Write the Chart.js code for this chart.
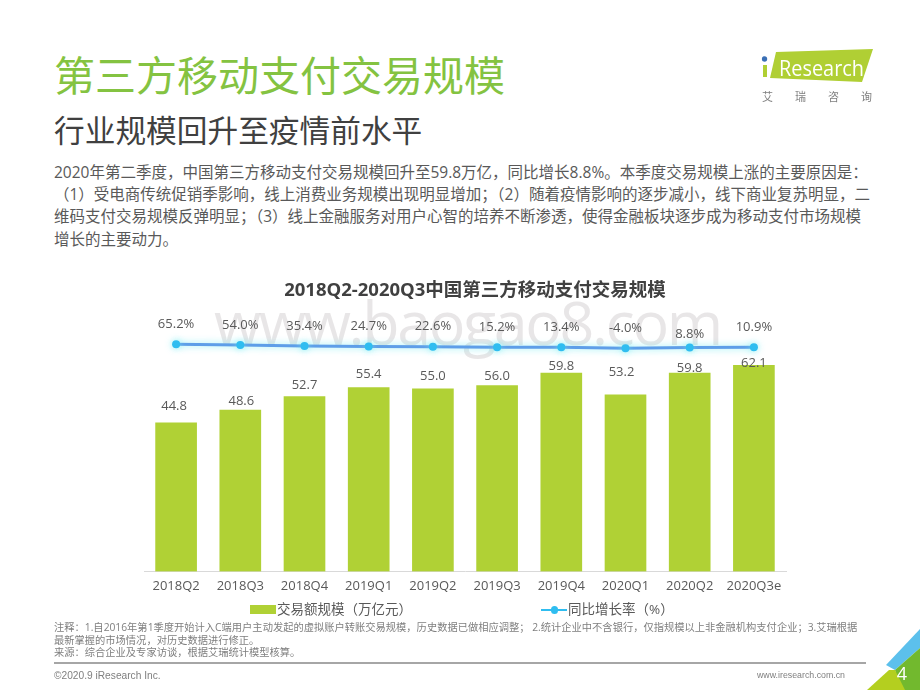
<!DOCTYPE html>
<html lang="zh"><head><meta charset="utf-8">
<script src="https://cdn.jsdelivr.net/npm/chart.js@4"></script>
<style>
html,body{margin:0;padding:0;background:#fff;}
#page{position:relative;width:920px;height:690px;overflow:hidden;font-family:"Open Sans","Noto Sans CJK SC",sans-serif;}
.t{position:absolute;white-space:nowrap;}
#c{position:absolute;left:0;top:0;}
#wm{left:214px;top:280px;font:61px "Open Sans",sans-serif;letter-spacing:-2.4px;color:rgba(190,185,188,.36);}
.sw{position:absolute;}
</style></head><body>
<div id="page">
<div class="t" style="left:54px;top:45px;font-size:41px;line-height:60px;color:#84c341;">第三方移动支付交易规模</div>
<div class="t" style="left:54px;top:107px;font-size:30.7px;line-height:46px;color:#404040;">行业规模回升至疫情前水平</div>
<div class="t" style="left:54px;top:161px;font-size:15.5px;line-height:22.2px;color:#595959;">2020年第二季度，中国第三方移动支付交易规模回升至59.8万亿，同比增长8.8%。本季度交易规模上涨的主要原因是：<br>（1）受电商传统促销季影响，线上消费业务规模出现明显增加；（2）随着疫情影响的逐步减小，线下商业复苏明显，二<br>维码支付交易规模反弹明显；（3）线上金融服务对用户心智的培养不断渗透，使得金融板块逐步成为移动支付市场规模<br>增长的主要动力。</div>
<div class="t" id="wm">www.baogao8.com</div>
<canvas id="c" width="920" height="690"></canvas>
<div id="legend"></div>
<div class="t" style="left:54px;top:621px;font-size:10.27px;line-height:12.5px;color:#7f7f7f;">注释：1.自2016年第1季度开始计入C端用户主动发起的虚拟账户转账交易规模，历史数据已做相应调整； 2.统计企业中不含银行，仅指规模以上非金融机构支付企业；3.艾瑞根据<br>最新掌握的市场情况，对历史数据进行修正。<br>来源：综合企业及专家访谈，根据艾瑞统计模型核算。</div>
<div style="position:absolute;left:54px;top:662px;width:812px;height:2px;background:#a6a6a6;"></div>
<div class="t" style="left:54px;top:669px;font:10.2px/13px 'Liberation Sans',sans-serif;color:#7f7f7f;">©2020.9 iResearch Inc.</div>
<div class="t" style="left:757px;top:669px;font:8.8px/13px 'Liberation Sans',sans-serif;color:#7f7f7f;">www.iresearch.com.cn</div>
<svg style="position:absolute;left:0;top:0" width="920" height="690">
<polygon points="776,52 873,49 862,82 770,78" fill="#b0cf34"/>
<circle cx="764.5" cy="59" r="2.7" fill="#3a6fb5"/>
<rect x="763" y="65" width="4" height="12" fill="#b0cf34"/>
<text x="779" y="75.7" font-family="Open Sans" font-size="22" fill="#fff" textLength="85" lengthAdjust="spacingAndGlyphs">Research</text>
<polygon points="886,665 921,628 921,647 895,670" fill="#5cc0ec"/>
<polygon points="895,670 921,647 921,690 900,690" fill="#72b92e"/>
<polygon points="867,690 889,670 895,670 905,690" fill="#b4cf1f"/>
<text x="902" y="680" font-family="Open Sans" font-size="18" fill="#fff" text-anchor="middle">4</text>
</svg>
<div class="t" style="left:762px;top:90px;font-size:11px;line-height:14px;letter-spacing:22px;color:#7f7f7f;">艾瑞咨询</div>
</div>
<script>
const categories = ["2018Q2","2018Q3","2018Q4","2019Q1","2019Q2","2019Q3","2019Q4","2020Q1","2020Q2","2020Q3e"];
const volumeValues = [44.8,48.6,52.7,55.4,55.0,56.0,59.8,53.2,59.8,62.1];
const growthValues = [65.2,54.0,35.4,24.7,22.6,15.2,13.4,-4.0,8.8,10.9];
const volumeLabel = "交易额规模（万亿元）";
const growthLabel = "同比增长率（%）";
const chartTitle = "2018Q2-2020Q3中国第三方移动支付交易规模";

// distance in px from mark to centre of its label
const barLabelGap = [16,9,11,13,13,9,7,23,5,2];
const lineLabelGap = [20,20,20,20,20,20,20,20,13,20];
const barLabelShift = [-2,1,0,0,0,0,0,-4,0,0];

const GREEN = "#b0d135", LINE = "#5e9ee8", DOT = "#2fbdf0", TXT = "#595959";
const FONT = '"Open Sans","Noto Sans CJK SC",sans-serif';

const labelsPlugin = {
  id:"markLabels",
  afterLayout(chart){ chart.titleBlock.left += 10; chart.titleBlock.right += 10; },
  beforeDatasetDraw(chart,args){
    if(args.index===0){const x=chart.ctx;x.save();x.shadowColor="rgba(110,235,240,.8)";x.shadowBlur=7;}
  },
  afterDatasetDraw(chart,args){
    if(args.index===0) chart.ctx.restore();
  },
  afterDatasetsDraw(chart){
    const x = chart.ctx; x.save();
    x.font = "13px "+FONT; x.fillStyle = TXT; x.textAlign="center"; x.textBaseline="middle";
    chart.getDatasetMeta(1).data.forEach((el,i)=>x.fillText(volumeValues[i].toFixed(1), el.x+barLabelShift[i], el.y-barLabelGap[i]));
    chart.getDatasetMeta(0).data.forEach((el,i)=>x.fillText(growthValues[i].toFixed(1)+"%", el.x, el.y-lineLabelGap[i]));
    x.restore();
  }
};

const chart = new Chart(document.getElementById("c"),{
  data:{labels:categories,datasets:[
    {type:"line",label:growthLabel,data:growthValues,yAxisID:"y1",order:1,borderColor:LINE,borderWidth:3,
     pointRadius:4,pointBackgroundColor:DOT,pointBorderWidth:0,tension:0},
    {type:"bar",label:volumeLabel,data:volumeValues,yAxisID:"y",order:2,backgroundColor:GREEN,barThickness:41}
  ]},
  options:{
    responsive:false,animation:false,devicePixelRatio:1,
    layout:{padding:{left:144,right:134,top:280,bottom:89}},
    scales:{
      x:{grid:{display:false,drawTicks:false},border:{color:"#d9d9d9",width:1},
         ticks:{color:TXT,font:{family:FONT,size:13},padding:7,maxRotation:0,autoSkip:false}},
      y:{display:false,min:0,max:78.8},
      y1:{display:false,min:-3874,max:659}
    },
    plugins:{
      title:{display:true,text:chartTitle,color:"#404040",font:{family:FONT,size:18.5,weight:"bold"},padding:{top:0,bottom:7.8}},
      tooltip:{enabled:false},
      legend:{display:false}
    }
  },
  plugins:[labelsPlugin]
});

// HTML legend built from the chart's datasets
const legendBox = document.getElementById("legend");
function addLegend(label, textLeft, swatchHtml){
  const t = document.createElement("div");
  t.className = "t"; t.textContent = label;
  t.style.cssText = `left:${textLeft}px;top:600px;font-size:13.5px;line-height:19px;color:${TXT};`;
  legendBox.insertAdjacentHTML("beforeend", swatchHtml);
  legendBox.appendChild(t);
}
addLegend(chart.data.datasets[1].label, 277,
  `<div class="sw" style="left:250px;top:605px;width:26px;height:9px;background:${GREEN}"></div>`);
addLegend(chart.data.datasets[0].label, 568,
  `<div class="sw" style="left:541px;top:608.5px;width:26px;height:2.5px;background:${DOT}"></div>
   <div class="sw" style="left:550.5px;top:606px;width:7.5px;height:7.5px;border-radius:50%;background:${DOT}"></div>`);
</script>
</body></html>
